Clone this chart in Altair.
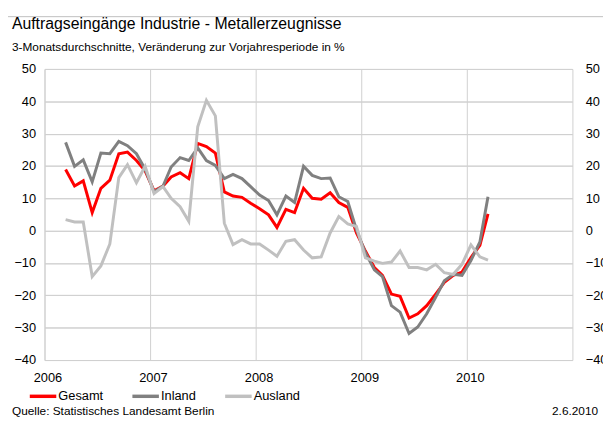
import altair as alt
import pandas as pd

# monthly 3-month averages, Mar 2006 .. Mar 2010
start_month = "2006-03"
gesamt = [18.9, 13.8, 15.4, 5.6, 13.1, 15.6, 23.8, 24.3, 21.7, 18.5,
          12.3, 13.8, 16.6, 17.9, 16.1, 27.0, 26.0, 24.0, 12.0, 10.7,
          10.3, 8.5, 6.8, 4.9, 1.0, 6.6, 5.6, 13.1, 10.0, 9.7,
          11.7, 8.7, 7.2, -0.7, -6.3, -11.4, -13.8, -19.6, -20.3, -27.0,
          -25.7, -23.2, -19.6, -16.0, -13.8, -12.8, -8.3, -4.5, 5.2]
inland = [27.3, 19.9, 21.9, 15.1, 24.0, 23.8, 27.6, 26.3, 23.8, 19.0,
          12.0, 13.8, 19.7, 22.6, 21.7, 25.6, 21.7, 20.2, 16.1, 17.4,
          16.1, 13.6, 11.0, 9.3, 4.9, 10.7, 8.7, 19.9, 17.1, 16.1,
          16.3, 10.5, 9.0, 0.3, -6.8, -12.1, -14.2, -23.2, -25.2, -31.8,
          -29.8, -25.7, -20.6, -15.5, -13.5, -13.8, -9.2, -3.5, 10.5]
ausland = [3.4, 2.7, 2.7, -14.2, -10.9, -4.1, 16.4, 20.4, 14.8, 19.9,
           11.5, 13.6, 10.0, 7.4, 2.9, 32.1, 40.3, 35.5, 2.3, -4.3,
           -2.8, -4.1, -4.1, -6.0, -7.9, -3.3, -2.8, -6.0, -8.4, -8.1,
           -0.7, 4.4, 2.1, 1.3, -8.4, -9.4, -10.1, -9.7, -6.3, -11.4,
           -11.4, -12.1, -10.4, -13.0, -13.5, -10.4, -4.4, -8.1, -9.1]

series_names = ["Gesamt", "Inland", "Ausland"]
series_colors = ["#FF0000", "#808080", "#C0C0C0"]
year_labels = [2006, 2007, 2008, 2009, 2010]
y_ticks = list(range(-40, 51, 10))

title_text = "Auftragseingänge Industrie - Metallerzeugnisse"
subtitle_text = "3-Monatsdurchschnitte, Veränderung zur Vorjahresperiode in %"
source_text = "Quelle: Statistisches Landesamt Berlin"
date_text = "2.6.2010"

months = pd.date_range(start_month, periods=len(gesamt), freq="MS") + pd.Timedelta(days=14)
dates = [d.strftime("%Y-%m-%dT00:00:00") for d in months]

frames = []
for name, vals in zip(series_names, [gesamt, inland, ausland]):
    frames.append(pd.DataFrame({"date": dates, "value": vals, "series": name}))

FONT = "Liberation Sans"
GRID = "#D0D0D0"

x_enc = alt.X(
    "date:T",
    scale=alt.Scale(domain=[alt.DateTime(year=2006, month=1, date=1),
                            alt.DateTime(year=2011, month=1, date=1)]),
    axis=alt.Axis(values=[alt.DateTime(year=y, month=1, date=1) for y in year_labels],
                  format="%Y", title=None, grid=True, ticks=False, domain=False,
                  labelPadding=12, labelOffset=3, labelFlush=False, labelAlign="center"),
)
color_enc = alt.Color(
    "series:N",
    scale=alt.Scale(domain=series_names, range=series_colors),
    legend=alt.Legend(title=None, orient="none", legendX=-17, legendY=316,
                      direction="horizontal", symbolType="stroke",
                      symbolSize=721, symbolStrokeWidth=3.5, labelOffset=0,
                      columnPadding=22, labelFontSize=13, labelFont=FONT,
                      labelColor="#000000"),
)
y_scale = alt.Scale(domain=[-40, 50], nice=False)

def y_enc(orient):
    if orient is None:
        return alt.Y("value:Q", scale=y_scale, axis=None)
    return alt.Y("value:Q", scale=y_scale,
                 axis=alt.Axis(orient=orient, values=y_ticks, title=None,
                               grid=True, ticks=False, domain=False,
                               labelPadding=9 if orient == "left" else 13))

layers = []
for i, (df, orient) in enumerate(zip(frames, ["left", "right", None])):
    layers.append(
        alt.Chart(df).mark_line(strokeWidth=3, strokeJoin="miter")
        .encode(x=x_enc, y=y_enc(orient), color=color_enc)
    )

ann = pd.DataFrame({"k": [0]})
border = alt.Chart(ann).mark_rect(fill=None, stroke="#BFBFBF", strokeWidth=1).encode(
    x=alt.value(-40), x2=alt.value(700), y=alt.value(-53), y2=alt.value(600))

def txt(text, x, y, size, align="left"):
    return alt.Chart(ann).mark_text(text=text, font=FONT, fontSize=size, align=align,
                                    baseline="alphabetic", color="#000000").encode(
        x=alt.value(x), y=alt.value(y))

texts = [
    txt(title_text, -33, -41, 16),
    txt(subtitle_text, -33, -18, 12),
    txt(source_text, -33, 351, 12),
    txt(date_text, 561, 351, 12, align="right"),
]

chart = alt.layer(border, *layers, *texts).resolve_axis(y="independent").properties(
    width=535, height=295,
    autosize=alt.AutoSizeParams(type="none"),
    padding={"left": 37, "top": 59, "right": 31, "bottom": 60},
).configure_view(stroke=GRID, strokeWidth=1).configure_axis(
    gridColor=GRID, gridWidth=1, labelFont=FONT, labelFontSize=13, labelColor="#000000"
)

chart.save("out.html", embed_options={"renderer": "svg", "actions": False})
